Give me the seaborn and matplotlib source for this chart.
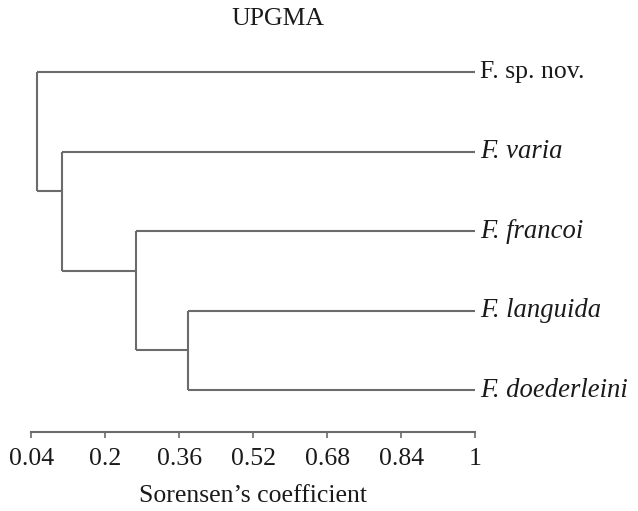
import matplotlib
matplotlib.use('Agg')
import matplotlib.pyplot as plt
import seaborn as sns
import pandas as pd

# leaves top to bottom, and UPGMA merges (scipy-style ids: leaves 0..4, then new nodes 5..)
leaves = ['F. sp. nov.', 'F. varia', 'F. francoi', 'F. languida', 'F. doederleini']
italic = [False, True, True, True, True]
merge_left = [3, 2, 1, 0]
merge_right = [4, 5, 6, 7]
merge_height = [0.378, 0.266, 0.106, 0.053]
leaf_height = 1.0
ticks = [0.04, 0.2, 0.36, 0.52, 0.68, 0.84, 1]
tick_labels = ['0.04', '0.2', '0.36', '0.52', '0.68', '0.84', '1']

LINE = '#6b6b6b'
TXT = '#1a1a1a'
FS = 18.5

# build the dendrogram segments
pos = {i: (leaf_height, float(i)) for i in range(len(leaves))}
rows = []
seg = 0
for k, (a, b, h) in enumerate(zip(merge_left, merge_right, merge_height)):
    xa, ya = pos[a]
    xb, yb = pos[b]
    for x0, y0 in [(xa, ya), (xb, yb)]:
        rows += [dict(seg=seg, x=x0, y=y0), dict(seg=seg, x=h, y=y0)]
        seg += 1
    rows += [dict(seg=seg, x=h, y=ya), dict(seg=seg, x=h, y=yb)]
    seg += 1
    pos[len(leaves) + k] = (h, min(ya, yb) + 0.5)
segs = pd.DataFrame(rows)

sns.set_style('white')
plt.rcParams['font.family'] = ['Liberation Serif', 'DejaVu Serif']

fig = plt.figure(figsize=(6.38, 5.11), dpi=100)
ax = fig.add_axes([0.0491, 0.1546, 0.6955, 0.7823])

sns.lineplot(data=segs, x='x', y='y', units='seg', estimator=None, sort=False,
             color=LINE, linewidth=1.5, ax=ax, legend=False)
for ln in ax.lines:
    ln.set_clip_on(False)
    ln.set_solid_capstyle('butt')

for i, name in enumerate(leaves):
    ax.text(leaf_height + 0.011, i, name, ha='left', va='center',
            fontsize=FS + 0.7 if italic[i] else FS,
            style='italic' if italic[i] else 'normal', color=TXT)

ax.set_xlim(0.04, 1)
ax.set_ylim(4.528, -0.5)
ax.set_xticks(ticks)
ax.set_xticklabels(tick_labels, fontsize=FS, color=TXT)
ax.set_yticks([])
ax.set_ylabel('')
ax.set_xlabel('Sorensen\u2019s coefficient', fontsize=FS, color=TXT, labelpad=11)
ax.tick_params(axis='x', direction='out', length=4, width=1.2, color=LINE, pad=7.5, bottom=True)
for side in ['top', 'right', 'left']:
    ax.spines[side].set_visible(False)
ax.spines['bottom'].set_color(LINE)
ax.spines['bottom'].set_linewidth(1.5)

fig.text(278 / 638, 1 - 19 / 511, 'UPGMA', ha='center', va='center', fontsize=FS, color=TXT)

fig.savefig('out.png', dpi=100)
